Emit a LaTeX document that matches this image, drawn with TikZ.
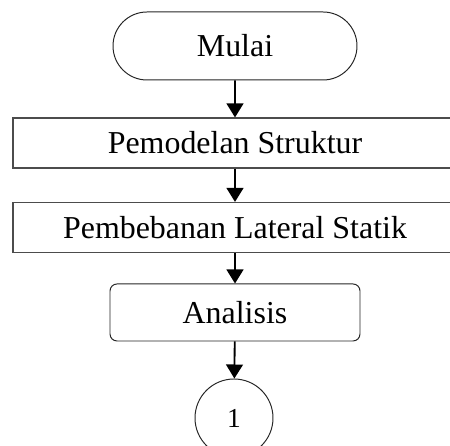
\documentclass[tikz,border=0pt]{standalone}
\usepackage{fontspec}
\setmainfont{Liberation Serif}
\usetikzlibrary{arrows.meta,shapes.misc}

\begin{document}
\begin{tikzpicture}[
  font=\fontsize{22.7}{27}\selectfont,
  >={Triangle[length=3.5mm, width=4.2mm]},
  flow/.style={->, draw=black, line width=1.3pt},
  terminal/.style={draw=black!85, line width=0.7pt, rounded rectangle,
    minimum width=6.1cm, minimum height=1.7cm, inner sep=0pt},
  process/.style={draw=black!70, line width=0.8pt, rectangle,
    minimum width=11.1cm, minimum height=1.25cm, inner sep=0pt},
  task/.style={draw=black!85, line width=0.7pt, rectangle, rounded corners=0.175cm,
    minimum width=6.25cm, minimum height=1.425cm, inner sep=0pt},
  connector/.style={draw=black!85, line width=0.7pt, circle,
    minimum size=1.95cm, inner sep=0pt, font=\fontsize{19.5}{23}\selectfont}
]
\useasboundingbox (0,0) rectangle (11.25,11.15);

\node[terminal] (mulai) at (5.875,10.0) {Mulai};
\node[process] (model) at (5.875,7.575) {Pemodelan Struktur};
\node[process] (beban) at (5.875,5.4625) {Pembebanan Lateral Statik};
\node[task] (analisis) at (5.875,3.3375) {Analisis};
\node[connector] (satu) at (5.85,0.7) {1};

\draw[flow] (mulai) -- (model);
\draw[flow] (model) -- (beban);
\draw[flow] (beban) -- (analisis);
\draw[flow] (analisis) -- (satu);
\end{tikzpicture}
\end{document}
